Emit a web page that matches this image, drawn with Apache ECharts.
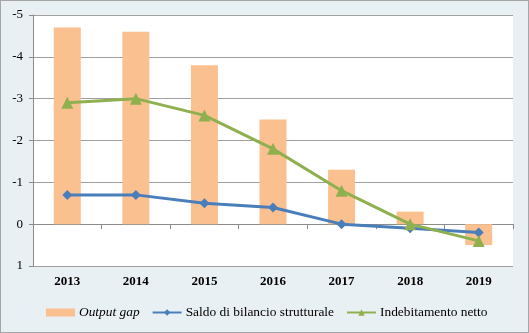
<!DOCTYPE html>
<html>
<head>
<meta charset="utf-8">
<script src="https://cdn.jsdelivr.net/npm/echarts@6/dist/echarts.min.js"></script>
<style>
  html, body { margin: 0; padding: 0; background: #fff; }
  #chart { width: 527px; height: 331px; border: 1px solid #a6a6a6; background: #e9f0f3; }
</style>
</head>
<body>
<div id="chart"></div>
<script>
// Years on the category axis
const years = ['2013', '2014', '2015', '2016', '2017', '2018', '2019'];
// Output gap (bars)
const outputGap = [-4.7, -4.6, -3.8, -2.5, -1.3, -0.3, 0.5];
// Saldo di bilancio strutturale
const saldoStrutturale = [-0.7, -0.7, -0.5, -0.4, 0.0, 0.1, 0.2];
// Indebitamento netto
const indebitamento = [-2.9, -3.0, -2.6, -1.8, -0.8, 0.0, 0.4];

const serif = '"Liberation Serif", "DejaVu Serif", serif';

const chart = echarts.init(document.getElementById('chart'));
chart.setOption({
  animation: false,
  grid: {
    left: 32, right: 15, top: 14, bottom: 66,
    show: true, backgroundColor: '#ffffff', borderWidth: 0
  },
  legend: {
    top: 300,
    left: 40,
    itemGap: 12,
    itemWidth: 29,
    itemHeight: 8,
    textStyle: { fontFamily: serif, fontSize: 13.4, color: '#000', padding: [0, 0, 0, -1] },
    data: [
      { name: 'Output gap', icon: 'rect', textStyle: { fontStyle: 'italic' } },
      { name: 'Saldo di bilancio strutturale' },
      { name: 'Indebitamento netto' }
    ]
  },
  xAxis: {
    type: 'category',
    data: years,
    axisLine: { onZero: true, lineStyle: { color: '#8c8c8c', width: 1 } },
    axisTick: { show: true, length: 5, lineStyle: { color: '#8c8c8c' } },
    axisLabel: {
      fontFamily: serif, fontSize: 13, fontWeight: 'bold', color: '#000',
      margin: 9
    },
    splitLine: { show: false }
  },
  yAxis: {
    type: 'value',
    inverse: true,
    min: -5, max: 1, interval: 1,
    axisLine: { show: true, lineStyle: { color: '#8c8c8c' } },
    axisTick: { show: true, length: 4, inside: false, lineStyle: { color: '#8c8c8c' } },
    axisLabel: { fontFamily: serif, fontSize: 13, color: '#000', margin: 10 },
    splitLine: { show: true, lineStyle: { color: '#a0a0a0', width: 1 } }
  },
  series: [
    {
      name: 'Output gap',
      type: 'bar',
      data: outputGap,
      barWidth: 27,
      itemStyle: { color: '#fac090' }
    },
    {
      name: 'Saldo di bilancio strutturale',
      type: 'line',
      data: saldoStrutturale,
      symbol: 'diamond',
      symbolSize: 10,
      lineStyle: { color: '#4a7ebb', width: 3 },
      itemStyle: { color: '#4a7ebb' }
    },
    {
      name: 'Indebitamento netto',
      type: 'line',
      data: indebitamento,
      symbol: 'triangle',
      symbolSize: 12,
      lineStyle: { color: '#8fb04f', width: 3 },
      itemStyle: { color: '#8fb04f' }
    }
  ]
});
</script>
</body>
</html>
